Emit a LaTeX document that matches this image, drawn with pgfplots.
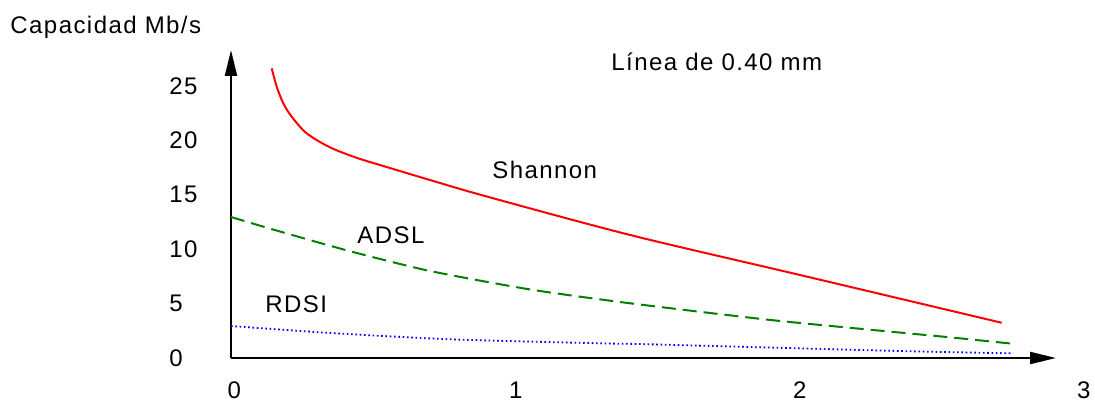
\documentclass[border=0pt]{standalone}
\usepackage{fontspec}
\setmainfont{Liberation Sans}[LetterSpace=6.0]
\usepackage{pgfplots}
\pgfplotsset{compat=1.18}
\usetikzlibrary{arrows.meta}
\definecolor{sred}{RGB}{255,0,0}
\definecolor{sgreen}{RGB}{0,128,0}
\definecolor{sblue}{RGB}{0,0,255}
\newcommand\f{\fontsize{12pt}{14pt}\selectfont}
\begin{document}
\begin{tikzpicture}[lbl/.style={font=\f, inner sep=0pt}]
\useasboundingbox (-115.5pt,-22.5pt) rectangle (432pt,179pt);
\begin{axis}[
  at={(0,0)}, anchor=south west,
  scale only axis, width=412.5pt, height=154pt,
  xmin=0, xmax=2.905, ymin=0, ymax=28.31,
  axis lines=left,
  axis line style={line width=1.1pt, -{Triangle[length=13pt,width=6pt]}},
  xtick=\empty, ytick=\empty,
  clip=false,
]
\addplot[sred, line width=1pt, smooth, tension=0.5] coordinates {
(0.1433,26.63) (0.1609,24.94) (0.1842,23.41) (0.2137,22.18) (0.2665,20.65) (0.3486,19.36)
(0.4426,18.40) (0.5246,17.74) (0.7007,16.36) (0.8944,14.89) (1.4049,11.31)
(2.0035,7.63) (2.7137,3.24)};
\addplot[sgreen, line width=1pt, dash pattern=on 7pt off 3.5pt, smooth, tension=0.4] coordinates {
(0,12.96) (0.114,12.07) (0.29,10.75) (0.443,9.65) (0.70,8.0) (1.053,6.3)
(1.405,5.03) (1.898,3.5) (2.331,2.4) (2.532,1.9) (2.761,1.29)};
\addplot[sblue, line width=0.9pt, dash pattern=on 0.8pt off 1.35pt, smooth, tension=0.4] coordinates {
(0,2.94) (0.35,2.3) (0.771,1.72) (1.3,1.35) (1.475,1.26) (2.356,0.64) (2.754,0.43)};
\foreach \v in {0,5,10,15,20,25} {
  \edef\tmp{\noexpand\node[lbl,anchor=west] at (axis cs:-0.218,\v) {\v};}\tmp
}
\node[lbl] at (axis cs:0.012,-2.94) {0};
\node[lbl] at (axis cs:1.003,-2.94) {1};
\node[lbl] at (axis cs:2.003,-2.94) {2};
\node[lbl] at (axis cs:3.003,-2.94) {3};
\node[lbl,anchor=base west] at (axis cs:-0.778,29.87) {Capacidad Mb/s};
\node[lbl,anchor=base west] at (axis cs:1.338,26.4) {Línea de 0.40 mm};
\node[lbl,anchor=base west] at (axis cs:0.919,16.54) {Shannon};
\node[lbl,anchor=base west] at (axis cs:0.4437,10.57) {ADSL};
\node[lbl,anchor=base west] at (axis cs:0.1197,4.14) {RDSI};
\end{axis}
\end{tikzpicture}
\end{document}
